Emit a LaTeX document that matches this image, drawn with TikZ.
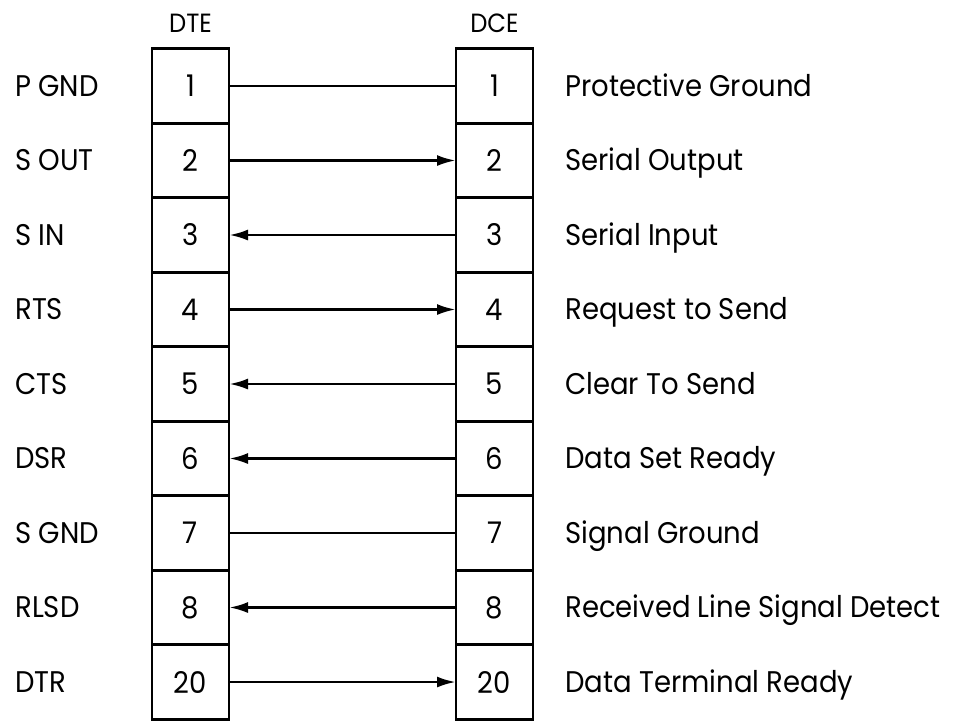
\documentclass[tikz,border=0pt]{standalone}
\usepackage{fontspec}
\setmainfont{Poppins}[FakeStretch=0.92]
\usetikzlibrary{arrows.meta,positioning}

\tikzset{
  pin/.style={rectangle, draw, line width=1.6pt, outer sep=0pt, inner sep=0pt,
    minimum width=1.54cm, minimum height=1.49cm, font=\fontsize{17}{17}\selectfont},
  head/.style={inner sep=0pt, text height=0.34cm, text depth=0pt,
    font=\fontsize{15}{15}\selectfont},
  sig/.style={inner sep=0pt, anchor=west, text height=0.4cm, text depth=0pt,
    font=\fontsize{17}{17}\selectfont},
  wire/.style={line width=1.6pt},
}

\begin{document}
\begin{tikzpicture}[>={Latex[length=0.38cm,width=0.22cm]}]
    \useasboundingbox (0,0) rectangle (19.06,-14.42);

    % DTE connector
    \node (dte1) [pin] at (3.81,-1.72) {1};
    \node (dte2) [pin, below=0pt of dte1] {2};
    \node (dte3) [pin, below=0pt of dte2] {3};
    \node (dte4) [pin, below=0pt of dte3] {4};
    \node (dte5) [pin, below=0pt of dte4] {5};
    \node (dte6) [pin, below=0pt of dte5] {6};
    \node (dte7) [pin, below=0pt of dte6] {7};
    \node (dte8) [pin, below=0pt of dte7] {8};
    \node (dte20) [pin, below=0pt of dte8] {20};
    \node (dte) [head, above=0.31cm of dte1] {DTE};

    % DCE connector
    \node (dce1) [pin, right=4.54cm of dte1] {1};
    \node (dce2) [pin, below=0pt of dce1] {2};
    \node (dce3) [pin, below=0pt of dce2] {3};
    \node (dce4) [pin, below=0pt of dce3] {4};
    \node (dce5) [pin, below=0pt of dce4] {5};
    \node (dce6) [pin, below=0pt of dce5] {6};
    \node (dce7) [pin, below=0pt of dce6] {7};
    \node (dce8) [pin, below=0pt of dce7] {8};
    \node (dce20) [pin, below=0pt of dce8] {20};
    \node (dce) [head, above=0.31cm of dce1] {DCE};

    % short names
    \node (pgnd) [sig] at (0.3,0 |- dte1) {P GND};
    \node (sout) [sig] at (0.3,0 |- dte2) {S OUT};
    \node (sin) [sig] at (0.3,0 |- dte3) {S IN};
    \node (rts) [sig] at (0.3,0 |- dte4) {RTS};
    \node (cts) [sig] at (0.3,0 |- dte5) {CTS};
    \node (dsr) [sig] at (0.3,0 |- dte6) {DSR};
    \node (sgnd) [sig] at (0.3,0 |- dte7) {S GND};
    \node (rlsd) [sig] at (0.3,0 |- dte8) {RLSD};
    \node (dtr) [sig] at (0.3,0 |- dte20) {DTR};

    % long names
    \node (pgndtxt) [sig, right=0.64cm of dce1] {Protective Ground};
    \node (souttxt) [sig, right=0.64cm of dce2] {Serial Output};
    \node (sintxt) [sig, right=0.64cm of dce3] {Serial Input};
    \node (rtstxt) [sig, right=0.64cm of dce4] {Request to Send};
    \node (ctstxt) [sig, right=0.64cm of dce5] {Clear To Send};
    \node (dsrtxt) [sig, right=0.64cm of dce6] {Data Set Ready};
    \node (sgndtxt) [sig, right=0.64cm of dce7] {Signal Ground};
    \node (rlsdtxt) [sig, right=0.64cm of dce8] {Received Line Signal Detect};
    \node (dtrtxt) [sig, right=0.64cm of dce20] {Data Terminal Ready};

    % wiring
    \draw [wire] (dte1) -- (dce1);
    \draw [wire, ->] (dte2) -- (dce2);
    \draw [wire, ->] (dce3) -- (dte3);
    \draw [wire, ->] (dte4) -- (dce4);
    \draw [wire, ->] (dce5) -- (dte5);
    \draw [wire, ->] (dce6) -- (dte6);
    \draw [wire] (dte7) -- (dce7);
    \draw [wire, ->] (dce8) -- (dte8);
    \draw [wire, ->] (dte20) -- (dce20);
\end{tikzpicture}
\end{document}
